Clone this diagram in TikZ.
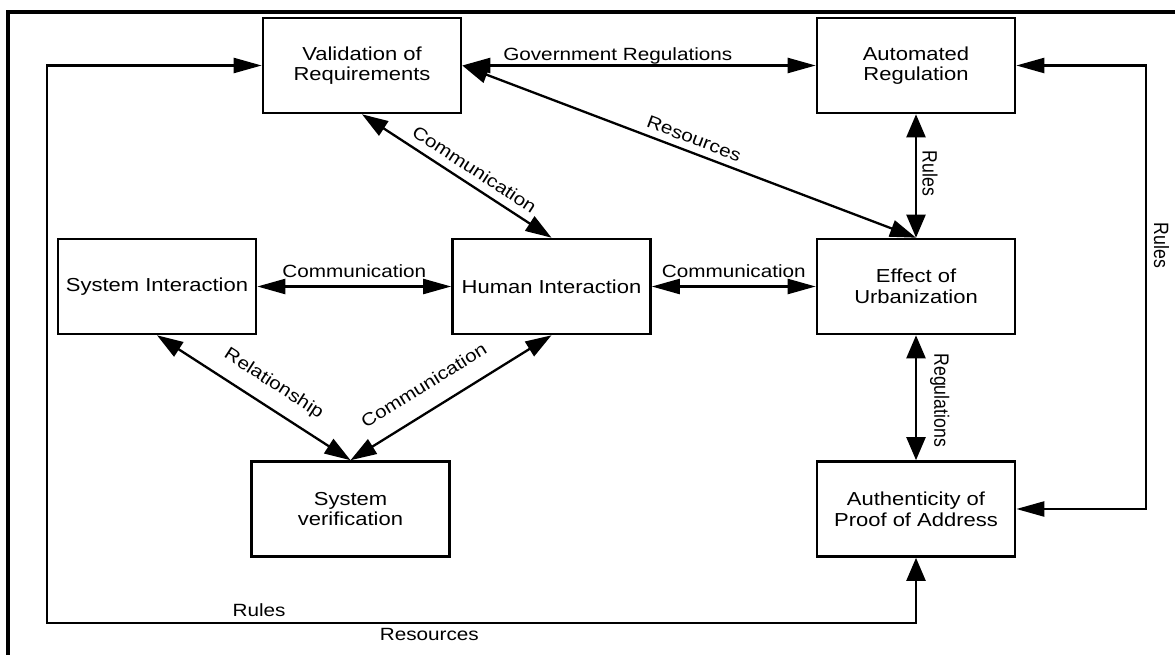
\documentclass[tikz,border=0pt]{standalone}
\usepackage{graphicx}
\usepackage{fontspec}
\setmainfont{Liberation Sans}
\newfontfamily\widefont{Liberation Sans}[FakeStretch=1.17]
\usetikzlibrary{arrows.meta}
\newcommand\boxfont{\widefont\fontsize{18.8}{20.6}\selectfont}
\newcommand\labfont{\widefont\fontsize{17.7}{20}\selectfont}
\newcommand\uprfont{\fontsize{17.7}{20}\selectfont}
% vertical label: reads top to bottom, widened across its height
\newcommand\vlabel[1]{\scalebox{1.17}[1]{\rotatebox{-90}{\uprfont #1}}}

\tikzset{
  htip/.tip={Triangle[length=28pt,width=15pt]},
  vtip/.tip={Triangle[length=23pt,width=19pt]},
  dtip/.tip={Triangle[length=26pt,width=17pt]},
}

\begin{document}
\begin{tikzpicture}[x=1pt, y=-1pt,
  box/.style={draw, line width=2.6pt, minimum width=198pt, minimum height=95pt,
              inner sep=0pt, align=center, font=\boxfont},
  conn/.style={line width=2.3pt, line join=miter},
  lbl/.style={font=\labfont, inner sep=2pt, outer sep=0pt},
  vlbl/.style={anchor=west, outer sep=0pt},
]
\useasboundingbox (0,0) rectangle (1175,655);
\fill[white] (0,0) rectangle (1175,655);

% frame
\draw[line width=4pt] (1175,12) -- (8,12) -- (8,655);

% blocks
\node[box] (val)     at (362,65.5)    {Validation of\\Requirements};
\node[box] (autoreg) at (916,65.5)    {Automated\\Regulation};
\node[box] (sysi)    at (157,286.5)   {System Interaction};
\node[box] (hum)     at (551.5,286.5) {Human Interaction};
\node[box] (urb)     at (916,286.5)   {Effect of\\Urbanization};
\node[box] (ver)     at (350.5,509)   {System\\verification};
\node[box] (auth)    at (916,509)     {Authenticity of\\Proof of Address};

% corner points of the feedback loops
\coordinate (lc) at (47,623);
\coordinate (rc) at (1146,245.5);

% connectors
\draw[conn, {htip}-{htip}] (val.east) --
  node[lbl, anchor=base, pos=.44, yshift=5pt] {Government Regulations} (autoreg.west);
\draw[conn, {dtip}-{dtip}] (val.east) --
  node[lbl, sloped, above=5.7pt, pos=.5] {Resources} (urb.north);
\draw[conn, {dtip}-{dtip}] (val.south) --
  node[lbl, sloped, above=6.8pt, pos=.55] {Communication} (hum.north);
\draw[conn, {htip}-{htip}] (sysi.east) --
  node[lbl, anchor=base, yshift=9pt] {Communication} (hum.west);
\draw[conn, {htip}-{htip}] (hum.east) --
  node[lbl, anchor=base, yshift=9pt] {Communication} (urb.west);
\draw[conn, {dtip}-{dtip}] (sysi.south) --
  node[lbl, sloped, above=12pt, pos=.54] {Relationship} (ver.north);
\draw[conn, {dtip}-{dtip}] (ver.north) --
  node[lbl, sloped, above=16.6pt, pos=.43] {Communication} (hum.south);
\draw[conn, {vtip}-{vtip}] (autoreg.south) --
  node[vlbl, pos=.48, inner sep=6.5pt] {\vlabel{Rules}} (urb.north);
\draw[conn, {vtip}-{vtip}] (urb.south) --
  node[vlbl, pos=.52, inner sep=14pt] {\vlabel{Regulations}} (auth.north);

% left/bottom loop
\draw[conn, {htip}-{vtip}] (val.west) -| (lc) -|
  node[lbl, pos=.122, anchor=base, yshift=6.3pt] {Rules}
  node[lbl, pos=.22, anchor=base, yshift=-17pt] {Resources} (auth.south);

% right loop
\draw[conn, {htip}-{htip}] (autoreg.east) -| (rc)
  node[vlbl, inner sep=8pt] {\vlabel{Rules}} |- (auth.east);
\end{tikzpicture}
\end{document}
